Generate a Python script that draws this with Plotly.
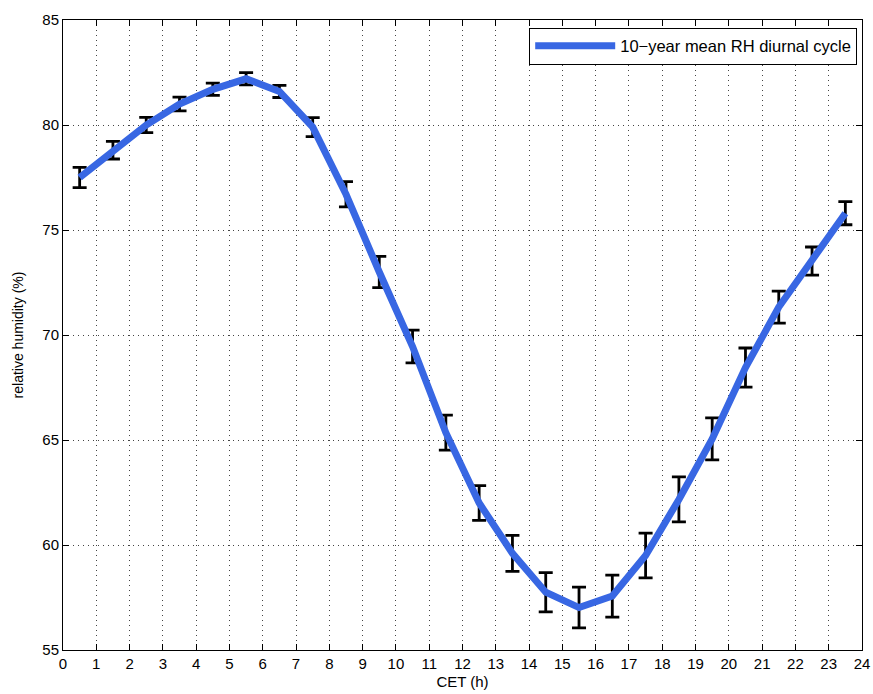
import plotly.graph_objects as go

hours = [0.5, 1.5, 2.5, 3.5, 4.5, 5.5, 6.5, 7.5, 8.5, 9.5, 10.5, 11.5,
         12.5, 13.5, 14.5, 15.5, 16.5, 17.5, 18.5, 19.5, 20.5, 21.5, 22.5, 23.5]
rh_mean = [77.5, 78.8, 80.0, 81.0, 81.7, 82.2, 81.6, 79.9, 76.7, 73.0, 69.45, 65.35,
           62.0, 59.6, 57.75, 57.02, 57.57, 59.5, 62.17, 65.05, 68.45, 71.33, 73.52, 75.8]
rh_err = [0.48, 0.42, 0.36, 0.33, 0.29, 0.29, 0.29, 0.45, 0.6, 0.74, 0.78, 0.83,
          0.83, 0.86, 0.93, 0.97, 1.0, 1.07, 1.07, 1.0, 0.93, 0.76, 0.67, 0.55]
x_ticks = list(range(0, 25))
y_ticks = [55, 60, 65, 70, 75, 80, 85]

FONT = "Liberation Sans, Arial, sans-serif"

fig = go.Figure()
fig.add_trace(go.Scatter(
    x=hours, y=rh_mean, mode="markers",
    marker=dict(size=0.1, color="rgba(0,0,0,0)"),
    error_y=dict(type="data", array=rh_err, visible=True, color="black",
                 thickness=2.8, width=7),
    showlegend=False, hoverinfo="skip"))
fig.add_trace(go.Scatter(
    x=hours, y=rh_mean, mode="lines",
    line=dict(color="#3867E3", width=7),
    name="10\u2212year mean RH diurnal cycle"))

axis_common = dict(
    showline=True, linecolor="black", linewidth=1, mirror="ticks",
    ticks="inside", ticklen=6, tickcolor="black", tickwidth=1,
    showgrid=True, gridcolor="#444444", gridwidth=1, griddash="1px,4px",
    zeroline=False, automargin=False,
    tickfont=dict(family=FONT, size=15, color="black"),
)

fig.update_xaxes(range=[0, 24], tickvals=x_ticks, **axis_common,
                 title=dict(text="CET (h)", font=dict(family=FONT, size=15, color="black"),
                            standoff=5))
fig.update_yaxes(range=[55, 85], tickvals=y_ticks, **axis_common,
                 title=dict(text="relative humidity (%)", font=dict(family=FONT, size=14, color="black"),
                            standoff=15))

fig.update_layout(
    width=873, height=694,
    margin=dict(l=63, r=11, t=20, b=44),
    plot_bgcolor="white", paper_bgcolor="white",
    font=dict(family=FONT, size=15, color="black"),
    legend=dict(x=0.994, y=0.988, xanchor="right", yanchor="top",
                bgcolor="white", bordercolor="black", borderwidth=1,
                itemwidth=80, font=dict(family=FONT, size=16.5, color="black"),
                tracegroupgap=0),
    showlegend=True,
)

fig.write_html("out.html")
